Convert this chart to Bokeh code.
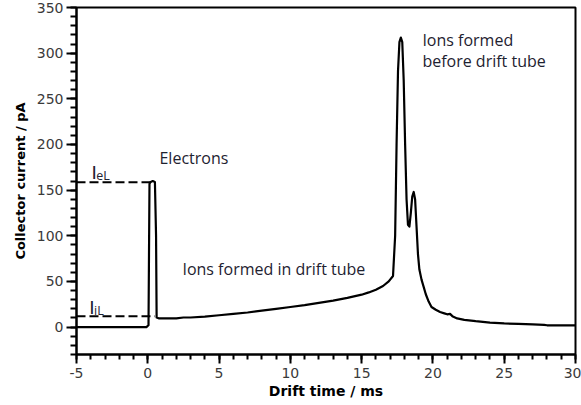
from bokeh.plotting import figure
from bokeh.models import FixedTicker, Range1d
from bokeh.core.properties import value
from bokeh.embed import file_html
from bokeh.resources import INLINE

# ---- data ----
drift_time = [-5, -0.1, 0.05, 0.12, 0.2, 0.35, 0.5, 0.58, 0.62, 0.8, 1.0, 2.0, 2.5, 3, 4, 5, 6, 7, 8, 9,
              10, 11, 12, 13, 14, 15, 15.5, 16, 16.5, 16.9, 17.2, 17.35, 17.45, 17.55, 17.65, 17.75, 17.85,
              17.95, 18.05, 18.15, 18.25, 18.35, 18.45, 18.55, 18.65, 18.75, 18.85, 18.95, 19.05, 19.2,
              19.35, 19.5, 19.7, 19.9, 20.2, 20.5, 20.8, 21.0, 21.2, 21.4, 21.7, 22.2, 23, 24, 25, 26, 27,
              27.8, 28, 30]
current = [0, 0, 2, 157, 159, 160, 159, 100, 10.5, 9.5, 9.5, 9.5, 10.5, 10.5, 11.5, 13, 14.5, 16, 18, 20,
           22, 24, 26.5, 29, 32, 35.5, 38, 41, 45, 50, 56, 100, 200, 280, 312, 317, 312,
           270, 200, 140, 112, 110, 125, 143, 148, 140, 110, 80, 63, 52,
           44, 36, 28, 22, 19, 16.5, 15, 14, 14.5, 11.5, 9.5, 8, 6.5, 5, 4, 3.5, 3,
           2.5, 2, 2]

level_names = ["eL", "iL"]
level_values = [158.5, 12]
level_ends = [0.2, 0.5]

x_ticks = [-5, 0, 5, 10, 15, 20, 25, 30]
y_ticks = [0, 50, 100, 150, 200, 250, 300, 350]

p = figure(width=581, height=405, output_backend="svg", toolbar_location=None,
           x_range=Range1d(-5, 30), y_range=Range1d(-30, 350),
           min_border_left=76, min_border_right=6, min_border_top=7, min_border_bottom=51)
p.background_fill_color = "white"
p.border_fill_color = "white"
p.grid.visible = False
p.outline_line_color = "black"
p.outline_line_width = 2

p.xaxis.ticker = FixedTicker(ticks=x_ticks, minor_ticks=list(range(-5, 31)))
p.yaxis.ticker = FixedTicker(ticks=y_ticks, minor_ticks=list(range(-30, 351, 10)))
p.xaxis.major_label_overrides = {t: str(t) for t in x_ticks}

for ax in (p.xaxis[0], p.yaxis[0]):
    ax.axis_line_width = 2
    ax.axis_line_color = "black"
    ax.major_tick_line_width = 2
    ax.minor_tick_line_width = 2
    ax.major_tick_in = 0
    ax.minor_tick_in = 0
    ax.major_label_text_font = "DejaVu Sans"
    ax.major_label_text_font_size = "14px"
    ax.major_label_text_color = "#3a3a3a"
    ax.axis_label_text_font = "DejaVu Sans"
    ax.axis_label_text_font_style = "bold"
    ax.axis_label_text_color = "black"

p.xaxis.major_tick_out = 9
p.xaxis.minor_tick_out = 5
p.yaxis.major_tick_out = 10
p.yaxis.minor_tick_out = 6
p.xaxis.major_label_standoff = 4
p.yaxis.major_label_standoff = 3
p.xaxis.axis_label = "Drift time / ms"
p.yaxis.axis_label = "Collector current / pA"
p.xaxis.axis_label_text_font_size = "14px"
p.yaxis.axis_label_text_font_size = "13px"
p.xaxis.axis_label_standoff = 2
p.yaxis.axis_label_standoff = 6

# reference levels (dashed)
for v, e in zip(level_values, level_ends):
    p.line([-5, e], [v, v], line_color="black", line_width=2, line_dash="9 4")

p.line(drift_time, current, line_color="black", line_width=2.2, line_join="round")

txt_color = "#1e2230"
font = value("Open Sans")
p.text(x=[-3.95, -4.1], y=[169, 22], text=["I", "I"], text_font=value("DejaVu Sans"),
       text_font_size="18px", text_color=txt_color, text_baseline="alphabetic", text_align="left")
p.text(x=[-3.62, -3.77], y=[166, 18.5], text=level_names, text_font=font, text_font_size="12.5px",
       text_color=txt_color, text_baseline="alphabetic", text_align="left")

p.text(x=[0.82, 2.43, 19.26, 19.26], y=[185.5, 63.7, 314, 291],
       text=["Electrons", "Ions formed in drift tube", "Ions formed", "before drift tube"],
       text_font=font, text_font_size="16px", text_color=txt_color,
       text_baseline="middle", text_align="left")

open("out.html", "w").write(file_html(p, INLINE))
